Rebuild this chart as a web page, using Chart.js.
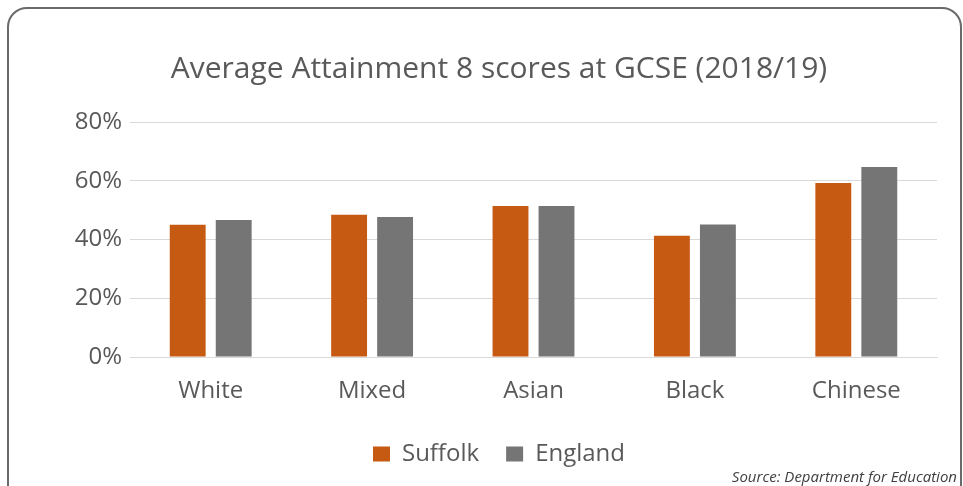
<!DOCTYPE html>
<html>
<head>
<meta charset="utf-8">
<script src="https://cdn.jsdelivr.net/npm/chart.js@4/dist/chart.umd.min.js"></script>
<style>
  html, body { margin: 0; padding: 0; background: #fff; overflow: hidden; }
  #frame {
    position: absolute; left: 7px; top: 7px; width: 951px; height: 500px;
    border: 2.5px solid #6a6a6a; border-radius: 20px; background: #fff;
  }
  #wrap { position: absolute; left: 0; top: 0; width: 994px; height: 486px; }
  #source {
    position: absolute; right: 6px; top: 466px;
    font: italic 15px "Open Sans", sans-serif; color: #404040;
  }
</style>
</head>
<body>
<div id="frame"></div>
<div id="wrap"><canvas id="chart"></canvas></div>
<div id="source">Source: Department for Education</div>
<script>
const categories = ["White", "Mixed", "Asian", "Black", "Chinese"];
const suffolk = [45.0, 48.4, 51.4, 41.3, 59.2];
const england = [46.6, 47.7, 51.4, 45.1, 64.7];
const yTicks = [0, 20, 40, 60, 80];

const textColor = "#595959";
const font = "'Open Sans', sans-serif";

new Chart(document.getElementById("chart"), {
  type: "bar",
  data: {
    labels: categories,
    datasets: [
      { label: "Suffolk", data: suffolk, backgroundColor: "#c75a12" },
      { label: "England", data: england, backgroundColor: "#757575" },
    ],
  },
  options: {
    responsive: true,
    maintainAspectRatio: false,
    animation: false,
    datasets: { bar: { barPercentage: 0.78, categoryPercentage: 0.57 } },
    layout: { padding: { top: 40, bottom: 10, left: 61, right: 57 } },
    plugins: {
      title: {
        display: true,
        text: "Average Attainment 8 scores at GCSE (2018/19)",
        color: textColor,
        font: { family: font, size: 30, weight: "normal" },
        padding: { top: 11, bottom: 35 },
      },
      legend: {
        position: "bottom",
        labels: {
          color: textColor,
          font: { family: font, size: 24 },
          boxWidth: 17,
          boxHeight: 15,
          padding: 27,
        },
      },
      tooltip: { enabled: false },
    },
    scales: {
      x: {
        grid: { display: false },
        border: { color: "#d9d9d9" },
        ticks: { color: textColor, font: { family: font, size: 24 }, padding: 12 },
        afterFit(scale) { scale.height = 58; },
      },
      y: {
        min: 0,
        max: 80,
        afterBuildTicks(scale) { scale.ticks = yTicks.map((v) => ({ value: v })); },
        afterFit(scale) { scale.width = 69; },
        grid: { color: "#d9d9d9", drawTicks: false },
        border: { display: false },
        ticks: {
          color: textColor,
          font: { family: font, size: 24 },
          padding: 8,
          callback: (v) => v + "%",
        },
      },
    },
  },
});
</script>
</body>
</html>
